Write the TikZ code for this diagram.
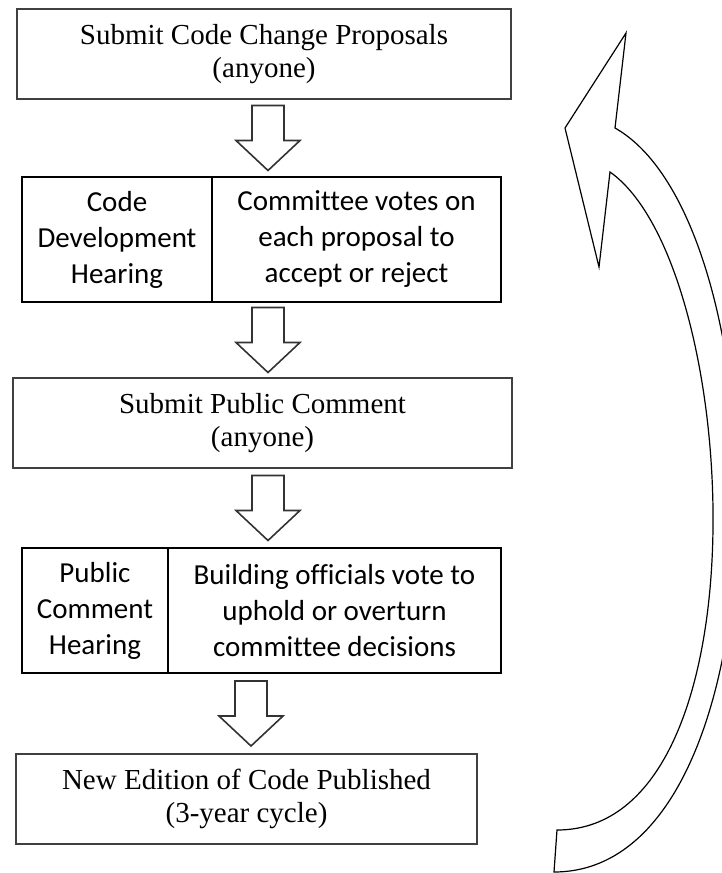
\documentclass[tikz,border=0pt]{standalone}
\usepackage{fontspec}
\setmainfont[Ligatures=NoCommon]{Liberation Serif}
\newfontfamily\calibri[Ligatures=NoCommon]{Carlito}
\usetikzlibrary{positioning, calc}

\newcommand{\blockdown}[3]{%
  \draw[blockarr] let \p1=($(#1.south)!0.5!(#2.north)$) in
    (#3pt-16pt,\y1+32.5pt) -- (#3pt+16pt,\y1+32.5pt) -- (#3pt+16pt,\y1-2.5pt)
    -- (#3pt+32pt,\y1-2.5pt) -- (#3pt,\y1-32.5pt) -- (#3pt-32pt,\y1-2.5pt)
    -- (#3pt-16pt,\y1-2.5pt) -- cycle;}

\begin{document}
\begin{tikzpicture}[
      x=1pt, y=-1pt,
      serifbox/.style={rectangle, draw=black!75, line width=1.2pt,
                       minimum height=90, align=center, outer sep=0pt,
                       font=\fontsize{29}{33.4}\selectfont},
      cellbox/.style={rectangle, draw=black, line width=2pt,
                      minimum height=125, align=center, outer sep=0pt,
                      font=\calibri\fontsize{29}{36}\selectfont},
      blockarr/.style={draw=black!80, line width=1.6pt, fill=white},
      loopline/.style={draw=black, line width=1.2pt, fill=white}
    ]
    \useasboundingbox (0,0) rectangle (722,873);
    \clip (0,0) rectangle (722,873);

    \node[serifbox, minimum width=494] (propose) at (264,54) {Submit Code Change Proposals\\(anyone)};
    \node[cellbox, minimum width=190, anchor=north west] (cdhear) at (22,177) {Code\\Development\\Hearing};
    \node[cellbox, minimum width=289, right=0pt of cdhear] (cdvote) {Committee votes on\\each proposal to\\accept or reject};
    \node[serifbox, minimum width=499] (pubcom) at (262.5,423) {Submit Public Comment\\(anyone)};
    \node[cellbox, minimum width=146, anchor=north west] (pchear) at (22,548) {Public\\Comment\\Hearing};
    \node[cellbox, minimum width=333, right=0pt of pchear] (pcvote) {Building officials vote to\\uphold or overturn\\committee decisions};
    \node[serifbox, minimum width=461] (publish) at (246.5,799) {New Edition of Code Published\\(3-year cycle)};

    \blockdown{propose}{cdvote}{268}
    \blockdown{cdvote}{pubcom}{268}
    \blockdown{pubcom}{pcvote}{268}
    \blockdown{pcvote}{publish}{251}

    % return loop
    \draw[loopline] (626,33) -- (565,128) -- (599,267) -- (610,172)
      .. controls (742,265) and (770,830) .. (557,830)
      -- (554,872)
      .. controls (790,872) and (785,224) .. (615,128) -- cycle;
  \end{tikzpicture}
\end{document}
